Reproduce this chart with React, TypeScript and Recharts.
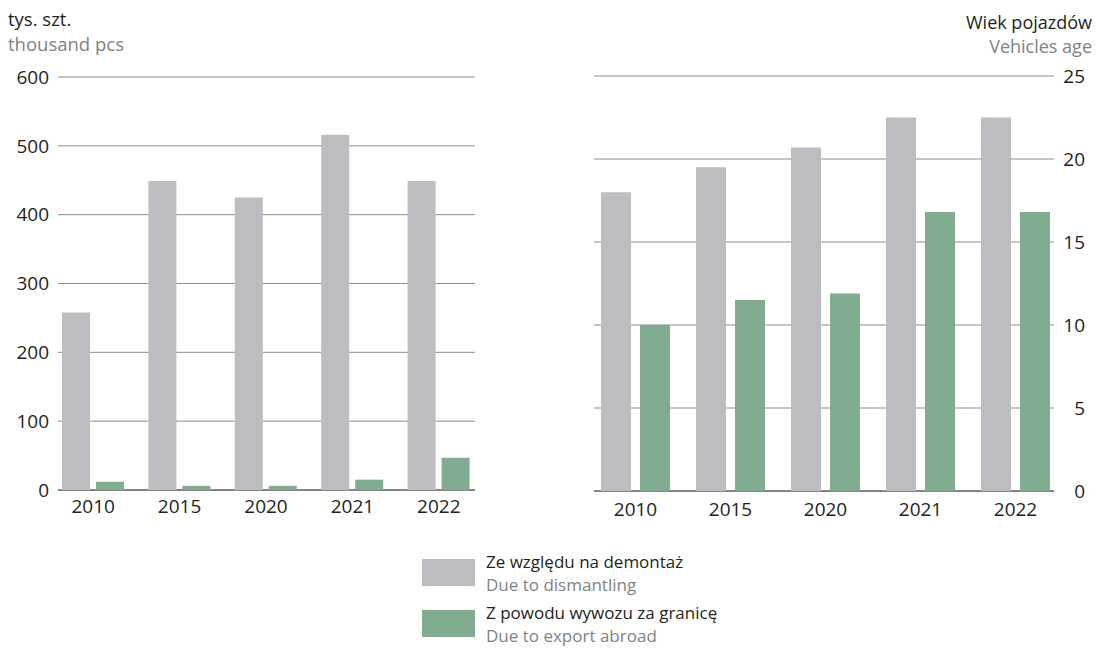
import { Bar, BarChart, CartesianGrid, XAxis, YAxis } from 'recharts';

const YEARS = ['2010', '2015', '2020', '2021', '2022'];
const COUNT_DISMANTLING = [258, 449, 425, 516, 449];
const COUNT_EXPORT = [12, 6, 6, 15, 47];
const AGE_DISMANTLING = [18.0, 19.5, 20.7, 22.5, 22.5];
const AGE_EXPORT = [10.0, 11.5, 11.9, 16.8, 16.8];
const COUNT_TICKS = [0, 100, 200, 300, 400, 500, 600];
const AGE_TICKS = [0, 5, 10, 15, 20, 25];

const GREY = '#bcbdc0';
const GREEN = '#80ac8f';
const GRID = '#8d8d8f';
const BASE = '#6d6e71';
const INK = '#231f20';
const MUTED = '#808285';
const FONT = '"Open Sans", sans-serif';

const countData = YEARS.map((year, i) => ({
  year,
  dismantling: COUNT_DISMANTLING[i],
  exportAbroad: COUNT_EXPORT[i],
}));

const ageData = YEARS.map((year, i) => ({
  year,
  dismantling: AGE_DISMANTLING[i],
  exportAbroad: AGE_EXPORT[i],
}));

// only the bottom line of the plot, drawn darker like an axis
const baseline = ({ offset }: any) => [offset.top + offset.height];

const tickStyle = { fontSize: 19, fill: INK };

function RightTick({ x, y, payload }: any) {
  return (
    <text x={x} y={y} textAnchor="end" dominantBaseline="central" fontSize={19} fill={INK}>
      {payload.value}
    </text>
  );
}

function CountChart() {
  return (
    <BarChart
      width={500}
      height={540}
      data={countData}
      margin={{ top: 77, right: 18, bottom: 20, left: 0 }}
      barSize={28}
      barGap={6}
    >
      <CartesianGrid vertical={false} stroke={GRID} x={58} width={417} />
      <XAxis
        dataKey="year"
        axisLine={false}
        tickLine={false}
        tickSize={0}
        tickMargin={10}
        height={30}
        tick={tickStyle}
      />
      <YAxis
        domain={[0, 600]}
        ticks={COUNT_TICKS}
        axisLine={false}
        tickLine={false}
        tickSize={0}
        tickMargin={1}
        width={50}
        tick={tickStyle}
      />
      <Bar dataKey="dismantling" fill={GREY} isAnimationActive={false} />
      <Bar dataKey="exportAbroad" fill={GREEN} isAnimationActive={false} />
      <CartesianGrid
        vertical={false}
        stroke={BASE}
        strokeWidth={1.5}
        x={58}
        width={417}
        horizontalCoordinatesGenerator={baseline}
      />
    </BarChart>
  );
}

function AgeChart() {
  return (
    <BarChart
      width={558}
      height={540}
      data={ageData}
      margin={{ top: 76, right: 0, bottom: 19, left: 48 }}
      barSize={30}
      barGap={9}
    >
      <CartesianGrid vertical={false} stroke={GRID} x={54} width={460} />
      <XAxis
        dataKey="year"
        axisLine={false}
        tickLine={false}
        tickSize={0}
        tickMargin={12}
        height={30}
        tick={tickStyle}
      />
      <YAxis
        orientation="right"
        domain={[0, 25]}
        ticks={AGE_TICKS}
        axisLine={false}
        tickLine={false}
        tickSize={0}
        tickMargin={22}
        width={35}
        tick={<RightTick />}
      />
      <Bar dataKey="dismantling" fill={GREY} isAnimationActive={false} />
      <Bar dataKey="exportAbroad" fill={GREEN} isAnimationActive={false} />
      <CartesianGrid
        vertical={false}
        stroke={BASE}
        strokeWidth={1.5}
        x={54}
        width={460}
        horizontalCoordinatesGenerator={baseline}
      />
    </BarChart>
  );
}

function LegendItem({ color, pl, en }: { color: string; pl: string; en: string }) {
  return (
    <div style={{ display: 'flex', alignItems: 'flex-start', height: 51 }}>
      <div style={{ width: 53, height: 27, background: color, marginTop: 9, marginRight: 11 }} />
      <div style={{ lineHeight: '23px', fontSize: 17 }}>
        <div style={{ color: INK }}>{pl}</div>
        <div style={{ color: MUTED }}>{en}</div>
      </div>
    </div>
  );
}

export default function App() {
  return (
    <div
      style={{
        position: 'absolute',
        left: 0,
        top: 0,
        width: 1098,
        height: 648,
        background: '#fff',
        fontFamily: FONT,
        fontSize: 18,
      }}
    >
      <div style={{ position: 'absolute', left: 8, top: 6, lineHeight: '25px', fontSize: 18.5 }}>
        <div style={{ color: INK }}>tys. szt.</div>
        <div style={{ color: MUTED }}>thousand pcs</div>
      </div>
      <div style={{ position: 'absolute', right: 6, top: 10, lineHeight: '24px', textAlign: 'right' }}>
        <div style={{ color: INK }}>Wiek pojazdów</div>
        <div style={{ color: MUTED }}>Vehicles age</div>
      </div>
      <div style={{ position: 'absolute', left: 0, top: 0 }}>
        <CountChart />
      </div>
      <div style={{ position: 'absolute', left: 540, top: 0 }}>
        <AgeChart />
      </div>
      <div style={{ position: 'absolute', left: 422, top: 550 }}>
        <LegendItem color={GREY} pl="Ze względu na demontaż" en="Due to dismantling" />
        <LegendItem color={GREEN} pl="Z powodu wywozu za granicę" en="Due to export abroad" />
      </div>
    </div>
  );
}
